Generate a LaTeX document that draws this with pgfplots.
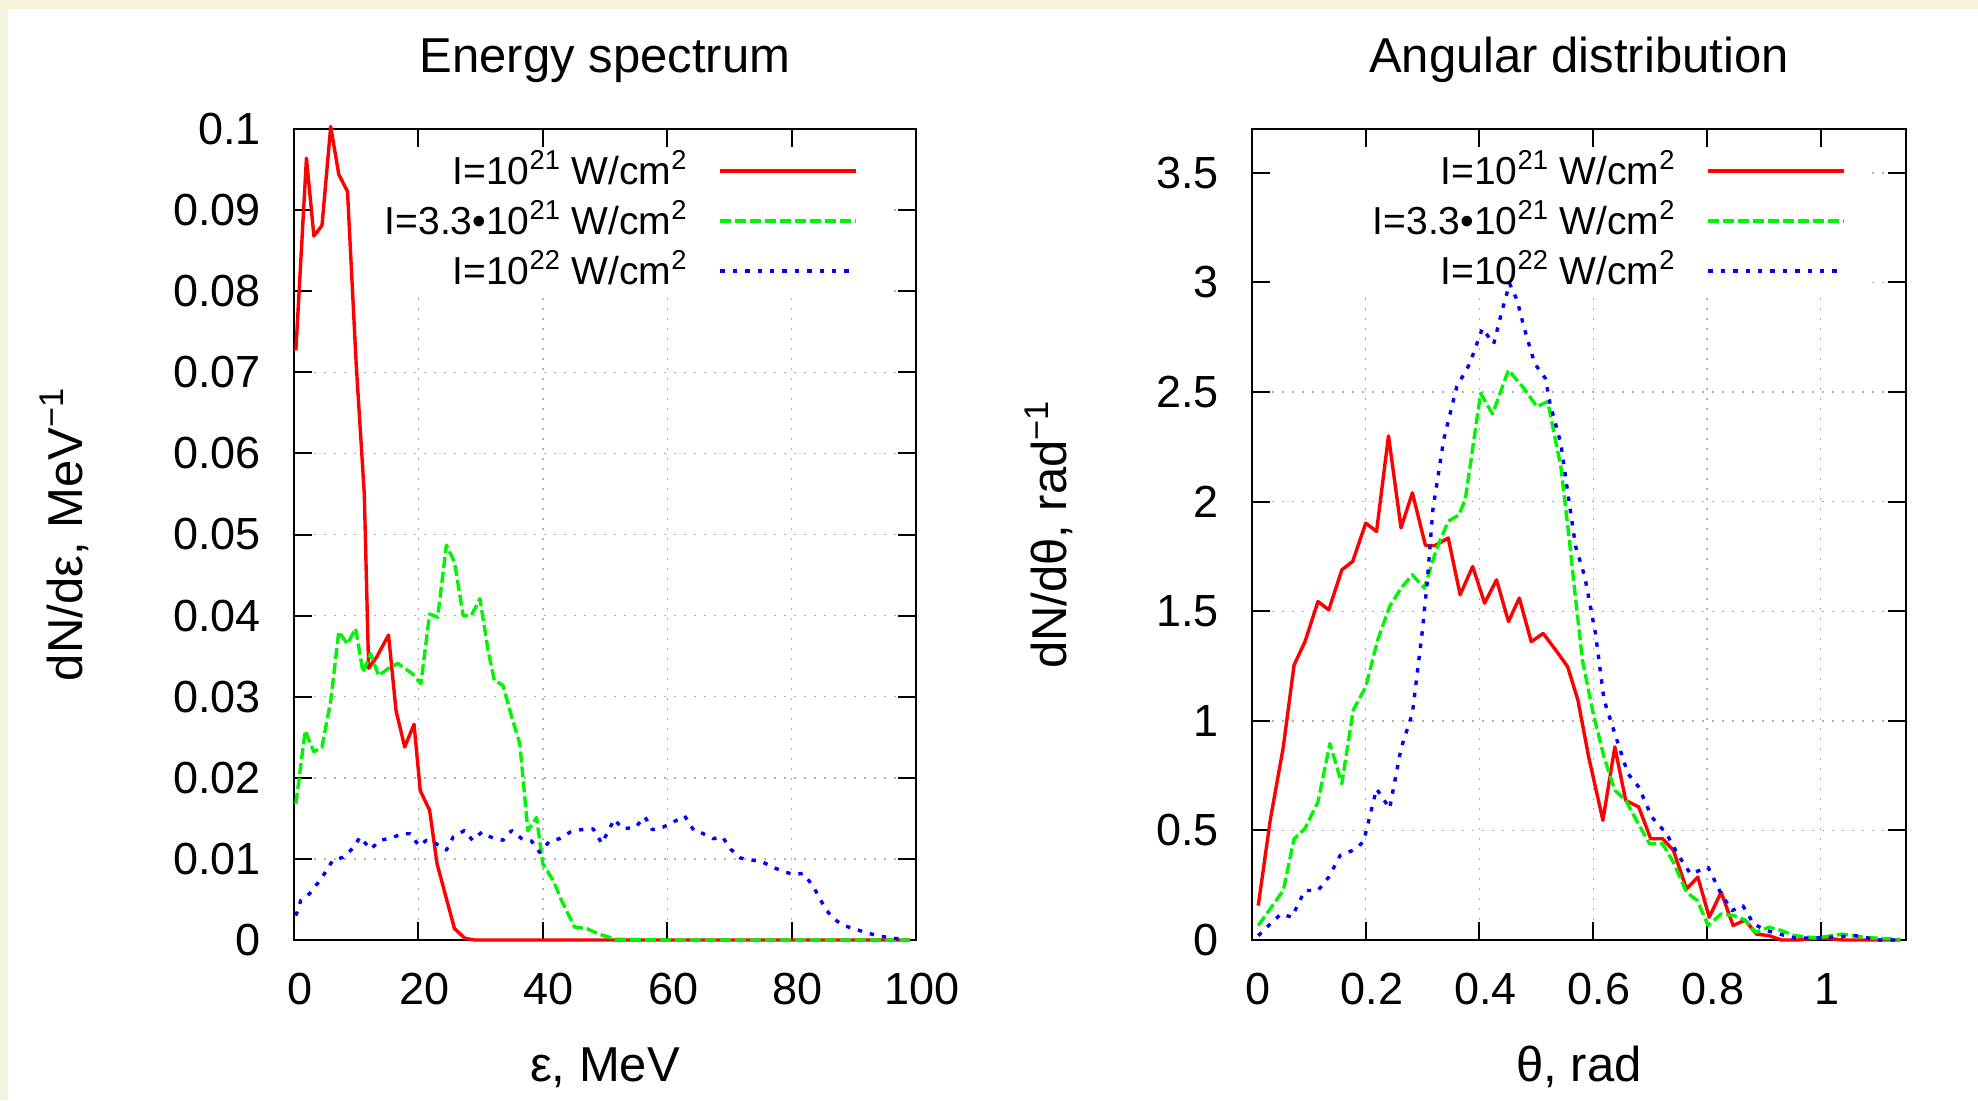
\documentclass[border=0pt]{standalone}
\usepackage{fontspec}
\setmainfont{Liberation Sans}
\usepackage{pgfplots}
\pgfplotsset{compat=1.18}
\pgfdeclarelayer{keybox}
\definecolor{cream}{RGB}{247,243,220}
\definecolor{gpred}{RGB}{255,0,0}
\definecolor{gpgreen}{RGB}{0,245,0}
\definecolor{gpblue}{RGB}{0,0,255}
\newcommand{\labfont}{\fontsize{24.5}{29}\selectfont}
\newcommand{\tickfont}{\fontsize{22.5}{27}\selectfont}
\newcommand{\legfont}{\fontsize{19.5}{23}\selectfont}

\pgfplotsset{
  layers/keylayers/.define layer set={
    axis background,axis grid,keybox,axis ticks,axis lines,axis tick labels,pre main,main,axis descriptions,axis foreground
  }{
    grid style={/pgfplots/on layer=axis grid},
    tick style={/pgfplots/on layer=axis ticks},
    axis line style={/pgfplots/on layer=axis lines},
    label style={/pgfplots/on layer=axis descriptions},
    legend style={/pgfplots/on layer=axis descriptions},
    title style={/pgfplots/on layer=axis descriptions},
    colorbar style={/pgfplots/on layer=axis descriptions},
    ticklabel style={/pgfplots/on layer=axis tick labels},
    axis background@ style={/pgfplots/on layer=axis background},
    3d box foreground style={/pgfplots/on layer=axis foreground},
  },
  gp/.style={
    set layers=keylayers,
    scale only axis, anchor=south west, height=405.5pt, clip=false,
    grid=major,
    grid style={gray!60, line width=0.7pt, dash pattern=on 0.8pt off 4.2pt},
    axis line style={line width=1pt},
    tick style={black, line width=1pt},
    major tick length=9pt, tick align=inside,
    scaled ticks=false,
    /pgf/number format/assume math mode=true,
    /pgf/number format/fixed,
    tick label style={font=\tickfont},
    xticklabel style={anchor=base, yshift=-32pt, xshift=3pt, inner sep=0pt},
    yticklabel style={anchor=east, xshift=-16.5pt, inner sep=0pt},
    label style={font=\labfont},
    title style={font=\labfont, anchor=base, at={(axis description cs:0.5,1.0548)}},
    xlabel style={anchor=base, at={(axis description cs:0.5,-0.1739)}},
    legend cell align=right,
    legend plot pos=right,
    legend image code/.code={\draw[##1] (0pt,0pt) -- (68pt,0pt);},
    legend style={anchor=north east, draw=none, fill=none, inner sep=0pt, outer sep=0pt,
      row sep=11pt, column sep=15.5pt,
      nodes={inner sep=0pt, text height=14pt, text depth=0pt, font=\legfont}},
  },
  redl/.style={gpred, line width=1.7pt, line join=round},
  greenl/.style={gpgreen, line width=1.7pt, line join=round, dash pattern=on 5.5pt off 2pt},
  bluel/.style={gpblue, line width=1.7pt, line join=round, dash pattern=on 2.2pt off 4pt},
}

\begin{document}
\begin{tikzpicture}
\fill[cream] (0,545.5pt) rectangle (989pt,550pt);
\fill[cream] (0,0) rectangle (4pt,550pt);

% ---------------- Energy spectrum ----------------
\begin{axis}[gp,
  at={(147pt,80pt)}, width=311pt,
  xmin=0, xmax=100, ymin=0, ymax=0.1,
  xtick={0,20,40,60,80,100},
  ytick={0,0.01,0.02,0.03,0.04,0.05,0.06,0.07,0.08,0.09,0.1},
  /pgf/number format/precision=2,
  title={Energy spectrum},
  xlabel={ε, MeV},
  ylabel={dN/dε, MeV\textsuperscript{−1}},
  ylabel style={anchor=base, at={(axis description cs:-0.3408,0.5)}},
  legend style={at={(axis description cs:0.9068,0.9655)}},
]
\begin{pgfonlayer}{keybox}
\fill[white] (axis cs:2.8,0.0797) rectangle (axis cs:95.2,0.1);
\end{pgfonlayer}
\addplot[redl] coordinates {
(0.3,0.0727)(2.0,0.0964)(3.2,0.0868)(4.5,0.0881)(5.9,0.1003)(7.2,0.0944)(8.6,0.0923)
(10.0,0.071)(11.3,0.055)(12.0,0.0335)(13.3,0.0349)(15.2,0.0376)(16.4,0.0283)(17.8,0.0238)
(19.3,0.0266)(20.3,0.0184)(21.8,0.016)(23.0,0.0094)(25.8,0.0014)(27.5,0.0002)(29,0)
(40,0)(60,0)(80,0)(99,0)};
\addlegendentry{I=10\textsuperscript{21} W/cm\textsuperscript{2}}
\addplot[greenl] coordinates {
(0.3,0.0168)(1.8,0.0258)(3.2,0.0232)(4.5,0.0238)(5.9,0.0295)(7.2,0.038)(8.6,0.0365)
(9.9,0.0384)(11.1,0.033)(12.3,0.0353)(13.6,0.0326)(15.2,0.0335)(16.7,0.0341)(19.1,0.0328)
(20.4,0.0316)(21.8,0.0402)(23.1,0.0398)(24.5,0.0487)(25.8,0.0466)(27.2,0.04)(28.5,0.04)
(29.9,0.0421)(31.2,0.0357)(32.2,0.032)(33.6,0.0314)(35.0,0.0275)(36.3,0.0242)(37.6,0.0135)
(39.0,0.0151)(40.0,0.0094)(41.7,0.0073)(43.0,0.0049)(45.1,0.0016)(47.1,0.0014)(49.1,0.0007)
(51.8,0.0001)(60,0)(80,0)(99,0)};
\addlegendentry{I=3.3•10\textsuperscript{21} W/cm\textsuperscript{2}}
\addplot[bluel] coordinates {
(0.3,0.003)(1.1,0.0049)(2.5,0.0057)(3.9,0.0071)(5.1,0.0084)(6.2,0.0098)(7.9,0.0102)
(9.6,0.0114)(10.6,0.0127)(12.3,0.0112)(13.9,0.0123)(15.7,0.0126)(17.4,0.0131)(18.7,0.0131)
(20.1,0.0116)(21.3,0.0123)(22.8,0.0119)(24.5,0.0111)(25.6,0.0127)(27.4,0.0135)(28.7,0.0123)
(30.2,0.0133)(31.6,0.0127)(33.6,0.0123)(35.0,0.0135)(36.6,0.0125)(38.2,0.0122)(39.5,0.0108)
(41.0,0.0121)(42.7,0.0125)(44.4,0.0133)(46.1,0.0136)(48.1,0.0137)(49.5,0.0119)(51.5,0.0149)
(52.8,0.0137)(54.9,0.0139)(56.4,0.0152)(57.6,0.0136)(59.3,0.0139)(60.9,0.0145)(62.8,0.0153)
(64.3,0.0135)(65.3,0.0133)(67.4,0.0125)(68.9,0.0127)(70.2,0.0112)(71.8,0.0101)(73.1,0.0099)
(75.1,0.0097)(77.2,0.0089)(78.9,0.0084)(80.2,0.0081)(81.9,0.0082)(83.2,0.0069)(84.3,0.0055)
(85.3,0.004)(86.6,0.0027)(88.3,0.0018)(90.0,0.0014)(92.0,0.0009)(94.1,0.0005)(96.4,0.0002)
(98.4,0.0001)};
\addlegendentry{I=10\textsuperscript{22} W/cm\textsuperscript{2}}
\end{axis}

% ---------------- Angular distribution ----------------
\begin{axis}[gp,
  at={(626pt,80pt)}, width=327pt,
  xmin=0, xmax=1.15, ymin=0, ymax=3.7,
  xtick={0,0.2,0.4,0.6,0.8,1},
  ytick={0,0.5,1,1.5,2,2.5,3,3.5},
  /pgf/number format/precision=2,
  title={Angular distribution},
  xlabel={θ, rad},
  ylabel={dN/dθ, rad\textsuperscript{−1}},
  ylabel style={anchor=base, at={(axis description cs:-0.283,0.5)}},
  legend style={at={(axis description cs:0.9083,0.9655)}},
]
\begin{pgfonlayer}{keybox}
\fill[white] (axis cs:0.032,2.94) rectangle (axis cs:1.091,3.7);
\end{pgfonlayer}
\addplot[redl] coordinates {
(0.011,0.157)(0.032,0.546)(0.055,0.88)(0.074,1.255)(0.093,1.36)(0.116,1.544)(0.135,1.506)
(0.158,1.689)(0.177,1.727)(0.2,1.902)(0.219,1.864)(0.24,2.3)(0.262,1.88)(0.282,2.04)
(0.305,1.80)(0.322,1.80)(0.345,1.834)(0.366,1.575)(0.388,1.704)(0.409,1.537)(0.43,1.643)
(0.451,1.453)(0.47,1.56)(0.491,1.361)(0.512,1.399)(0.534,1.323)(0.555,1.247)(0.573,1.095)
(0.592,0.835)(0.617,0.546)(0.638,0.881)(0.657,0.637)(0.68,0.607)(0.701,0.462)(0.722,0.462)
(0.741,0.409)(0.764,0.233)(0.784,0.287)(0.804,0.104)(0.825,0.218)(0.846,0.066)(0.867,0.091)
(0.887,0.027)(0.909,0.02)(0.931,0.0)(0.96,0)(1.0,0.01)(1.04,0.0)(1.14,0)};
\addlegendentry{I=10\textsuperscript{21} W/cm\textsuperscript{2}}
\addplot[greenl] coordinates {
(0.011,0.066)(0.032,0.142)(0.055,0.226)(0.074,0.462)(0.093,0.508)(0.116,0.63)(0.137,0.896)
(0.158,0.713)(0.178,1.049)(0.2,1.155)(0.221,1.369)(0.242,1.521)(0.262,1.605)(0.282,1.666)
(0.303,1.605)(0.324,1.78)(0.345,1.91)(0.364,1.94)(0.375,2.01)(0.402,2.494)(0.423,2.40)
(0.451,2.60)(0.478,2.517)(0.501,2.433)(0.52,2.456)(0.543,2.16)(0.558,1.826)(0.566,1.628)
(0.581,1.277)(0.6,1.034)(0.619,0.835)(0.638,0.683)(0.657,0.637)(0.676,0.546)(0.699,0.439)
(0.722,0.439)(0.741,0.355)(0.764,0.218)(0.783,0.18)(0.802,0.066)(0.825,0.119)(0.848,0.111)
(0.867,0.091)(0.886,0.035)(0.909,0.058)(0.931,0.043)(0.954,0.02)(0.992,0.009)(1.038,0.027)
(1.076,0.012)(1.122,0.005)(1.14,0.003)};
\addlegendentry{I=3.3•10\textsuperscript{21} W/cm\textsuperscript{2}}
\addplot[bluel] coordinates {
(0.011,0.02)(0.032,0.073)(0.051,0.119)(0.07,0.104)(0.093,0.226)(0.116,0.226)(0.135,0.287)
(0.155,0.386)(0.177,0.409)(0.196,0.447)(0.219,0.69)(0.242,0.6)(0.262,0.873)(0.282,1.034)
(0.299,1.399)(0.308,1.628)(0.318,1.963)(0.337,2.281)(0.36,2.524)(0.383,2.63)(0.405,2.79)
(0.425,2.72)(0.44,2.874)(0.453,2.995)(0.466,2.92)(0.478,2.798)(0.497,2.63)(0.516,2.562)
(0.524,2.448)(0.543,2.266)(0.558,1.99)(0.569,1.796)(0.585,1.659)(0.604,1.399)(0.619,1.095)
(0.638,0.942)(0.661,0.759)(0.68,0.698)(0.703,0.561)(0.729,0.485)(0.748,0.393)(0.771,0.302)
(0.802,0.332)(0.825,0.21)(0.844,0.134)(0.863,0.157)(0.882,0.073)(0.905,0.043)(0.928,0.027)
(0.954,0.009)(0.992,0.009)(1.061,0.02)(1.1,0)(1.137,0)};
\addlegendentry{I=10\textsuperscript{22} W/cm\textsuperscript{2}}
\end{axis}
\pgfresetboundingbox
\useasboundingbox (0,0) rectangle (989pt,550pt);
\end{tikzpicture}
\end{document}
